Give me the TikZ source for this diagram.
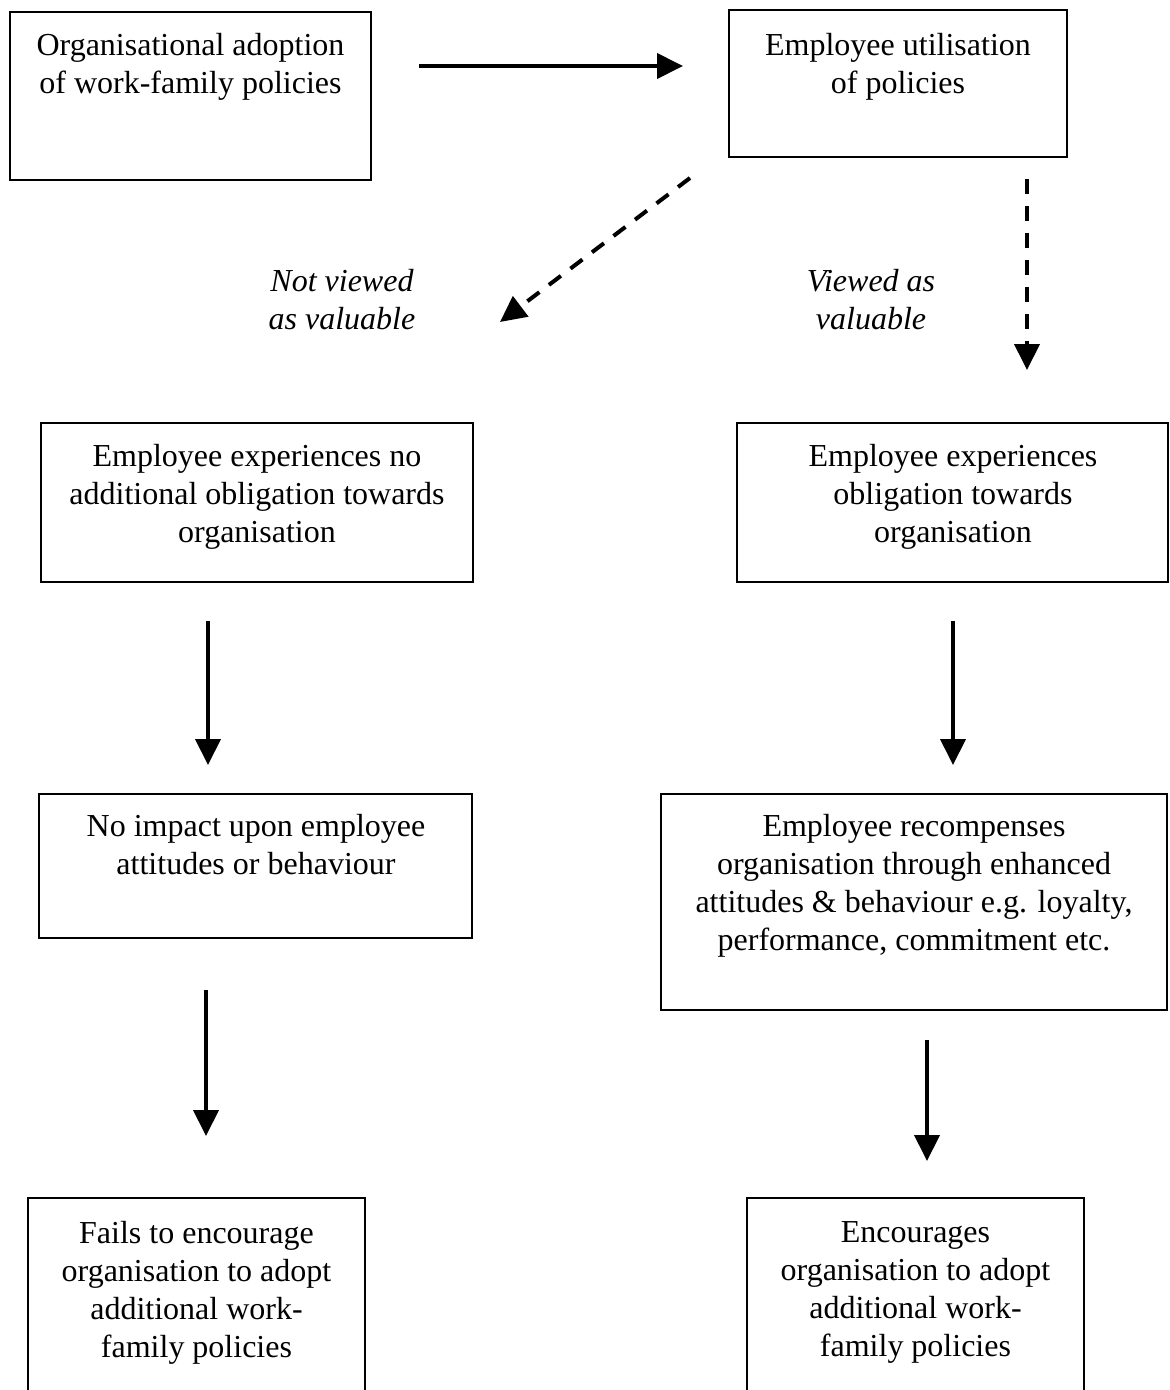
\documentclass[tikz,border=0pt]{standalone}
\usepackage{fontspec}
\setmainfont{Liberation Serif}
\usetikzlibrary{arrows.meta}
\begin{document}
\begin{tikzpicture}[x=1pt,y=-1pt,
 box/.style={draw, line width=2.8pt, inner sep=0pt, rectangle},
 txt/.style={align=center, font=\fontsize{32}{38}\selectfont, inner sep=0pt, anchor=north},
 itxt/.style={txt, font=\fontsize{32}{38}\selectfont\itshape},
 arr/.style={line width=4pt, -{Triangle[length=26pt,width=25pt]}},
 darr/.style={arr, dash pattern=on 15pt off 12pt}]
\useasboundingbox (0,0) rectangle (1170,1390);
\clip (0,0) rectangle (1170,1390);
% boxes
\node[box, minimum width=361pt, minimum height=168pt] (b1) at (190.5,96) {};
\node[box, minimum width=338pt, minimum height=147pt] (b2) at (898,83.5) {};
\node[box, minimum width=432pt, minimum height=159pt] (b3) at (257,502.5) {};
\node[box, minimum width=431pt, minimum height=159pt] (b4) at (952.5,502.5) {};
\node[box, minimum width=433pt, minimum height=144pt] (b5) at (255.5,866) {};
\node[box, minimum width=506pt, minimum height=216pt] (b6) at (914,902) {};
\node[box, minimum width=337pt, minimum height=252pt] (b7) at (196.5,1324) {};
\node[box, minimum width=337pt, minimum height=252pt] (b8) at (915.5,1324) {};
% texts
\node[txt] (t1) at (190.5,33) {Organisational adoption\\of work-family policies};
\node[txt] (t2) at (898,33) {Employee utilisation\\of policies};
\node[txt] (t3) at (257,444) {Employee experiences no\\additional obligation towards\\organisation};
\node[txt] (t4) at (953,444) {Employee experiences\\obligation towards\\organisation};
\node[txt] (t5) at (256,814) {No impact upon employee\\attitudes or behaviour};
\node[txt] (t6) at (914,814) {Employee recompenses\\organisation through enhanced\\attitudes \& behaviour e.g. loyalty,\\performance, commitment etc.};
\node[txt] (t7) at (196.5,1221) {Fails to encourage\\organisation to adopt\\additional work-\\family policies};
\node[txt] (t8) at (915.5,1221) {Encourages\\organisation to adopt\\additional work-\\family policies};
\node[itxt] (l1) at (342,269) {Not viewed\\as valuable};
\node[itxt] (l2) at (871,269) {Viewed as\\valuable};
% arrow end points
\coordinate (a1s) at (419,66);  \coordinate (a1e) at (683,66);
\coordinate (a2s) at (690,178); \coordinate (a2e) at (500,322);
\coordinate (a3s) at (1027,179); \coordinate (a3e) at (1027,370);
\coordinate (a4s) at (208,621); \coordinate (a4e) at (208,765);
\coordinate (a5s) at (206,990); \coordinate (a5e) at (206,1136);
\coordinate (a6s) at (953,621); \coordinate (a6e) at (953,765);
\coordinate (a7s) at (927,1040); \coordinate (a7e) at (927,1161);
\draw[arr] (a1s) -- (a1e);
\draw[darr] (a2s) -- (a2e);
\draw[darr] (a3s) -- (a3e);
\draw[arr] (a4s) -- (a4e);
\draw[arr] (a5s) -- (a5e);
\draw[arr] (a6s) -- (a6e);
\draw[arr] (a7s) -- (a7e);
\end{tikzpicture}
\end{document}
